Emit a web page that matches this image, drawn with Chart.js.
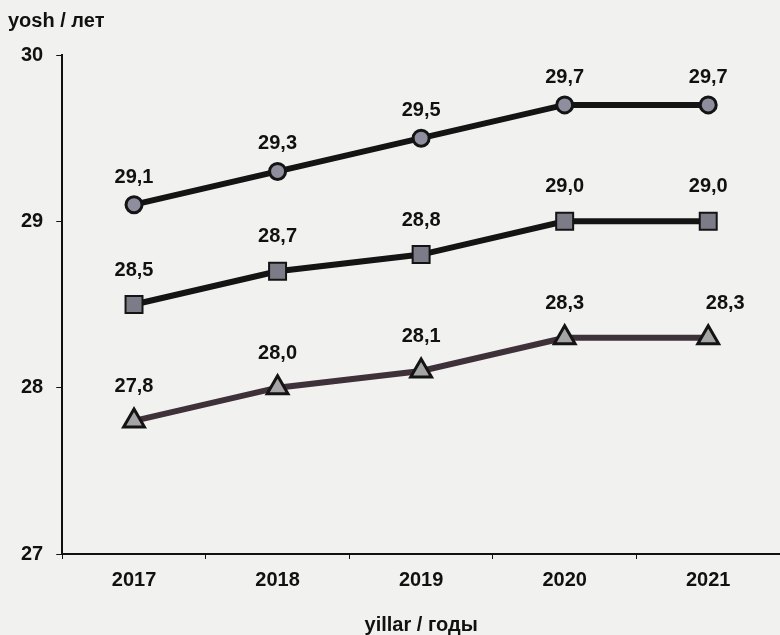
<!DOCTYPE html>
<html>
<head>
<meta charset="utf-8">
<script src="https://cdn.jsdelivr.net/npm/chart.js@4/dist/chart.umd.min.js"></script>
<style>
  html, body { margin: 0; padding: 0; background: #f1f1ef; overflow: hidden; }
  #wrap { width: 780px; height: 635px; }
</style>
</head>
<body>
<div id="wrap"><canvas id="chart-age"></canvas></div>
<script>
const years = ['2017', '2018', '2019', '2020', '2021'];
const seriesCircle = [29.1, 29.3, 29.5, 29.7, 29.7];
const seriesSquare = [28.5, 28.7, 28.8, 29.0, 29.0];
const seriesTriangle = [27.8, 28.0, 28.1, 28.3, 28.3];
const yTicks = [27, 28, 29, 30];

const FONT = "'Liberation Sans', Arial, sans-serif";
const BOLD20 = { family: FONT, size: 20, weight: 'bold' };

// value labels above each point, comma as decimal mark
const valueLabels = {
  id: 'valueLabels',
  afterDatasetsDraw(chart) {
    const ctx = chart.ctx;
    ctx.save();
    ctx.font = 'bold 20px ' + FONT;
    ctx.fillStyle = '#111';
    ctx.textAlign = 'center';
    ctx.textBaseline = 'alphabetic';
    chart.data.datasets.forEach((ds, di) => {
      const meta = chart.getDatasetMeta(di);
      meta.data.forEach((pt, i) => {
        const last = i === ds.data.length - 1;
        const dx = (di === 2 && last) ? 17 : 0;
        const dy = di === 0 ? 22 : 29;
        const txt = ds.data[i].toFixed(1).replace('.', ',');
        ctx.fillText(txt, pt.x + dx, pt.y - dy);
      });
    });
    ctx.restore();
  },
};

const ctx = document.getElementById('chart-age').getContext('2d');
new Chart(ctx, {
  type: 'line',
  data: {
    labels: years,
    datasets: [
      {
        data: seriesCircle,
        borderColor: '#141414',
        borderWidth: 6,
        pointStyle: 'circle',
        pointRadius: 8,
        pointBorderWidth: 3,
        pointBackgroundColor: '#8e8e9e',
        pointBorderColor: '#141414',
      },
      {
        data: seriesSquare,
        borderColor: '#141414',
        borderWidth: 6,
        pointStyle: 'rect',
        pointRadius: 12,
        pointBorderWidth: 2,
        pointBackgroundColor: '#7c7c88',
        pointBorderColor: '#141414',
      },
      {
        data: seriesTriangle,
        borderColor: '#3e3139',
        borderWidth: 6,
        pointStyle: 'triangle',
        pointRadius: 12,
        pointBorderWidth: 3,
        pointBackgroundColor: '#a5a5a5',
        pointBorderColor: '#141414',
      },
    ],
  },
  options: {
    responsive: true,
    maintainAspectRatio: false,
    animation: false,
    layout: { autoPadding: false, padding: { left: 8, right: 0, top: 0, bottom: 0 } },
    plugins: {
      legend: { display: false },
      tooltip: { enabled: false },
      title: {
        display: true,
        text: 'yosh / лет',
        align: 'start',
        color: '#111',
        font: BOLD20,
        padding: { top: 9, bottom: 22 },
      },
    },
    scales: {
      x: {
        offset: true,
        border: { color: '#111', width: 2 },
        grid: { offset: true, drawOnChartArea: false, drawTicks: true, tickLength: 5, color: '#111' },
        ticks: { color: '#111', padding: 9, font: BOLD20 },
        title: {
          display: true,
          text: 'yillar / годы',
          color: '#111',
          font: { family: FONT, size: 20, weight: 'bold', lineHeight: 1 },
          padding: { top: 14, bottom: 0 },
        },
      },
      y: {
        min: yTicks[0],
        max: yTicks[yTicks.length - 1],
        afterBuildTicks: axis => { axis.ticks = yTicks.map(v => ({ value: v })); },
        border: { color: '#111', width: 2 },
        grid: { drawOnChartArea: false, drawTicks: true, tickLength: 6, color: '#111' },
        ticks: { color: '#111', padding: 13, font: BOLD20 },
      },
    },
  },
  plugins: [valueLabels],
});
</script>
</body>
</html>
